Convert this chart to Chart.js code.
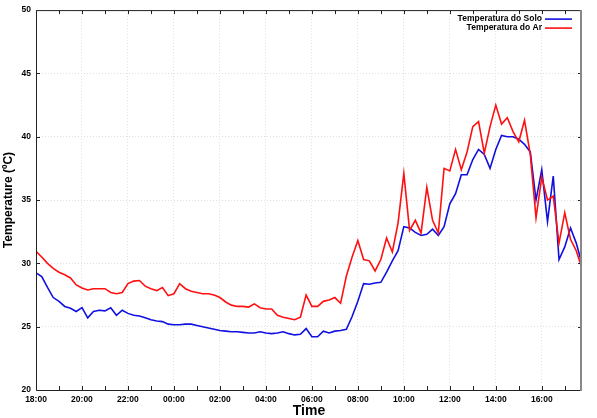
<!DOCTYPE html>
<html>
<head>
<meta charset="utf-8">
<script src="https://cdn.jsdelivr.net/npm/chart.js@4.4.1/dist/chart.umd.min.js"></script>
<style>
  html, body { margin: 0; padding: 0; background: #fff; }
  canvas { display: block; }
</style>
</head>
<body>
<canvas id="chart" width="597" height="418"></canvas>
<script>
// readings every 15 minutes, starting at 18:00
const STEP_HOURS = 0.25;

const xTickLabels = ['18:00', '20:00', '22:00', '00:00', '02:00', '04:00',
                     '06:00', '08:00', '10:00', '12:00', '14:00', '16:00'];

const tempSolo = [
  29.25, 28.95, 28.1, 27.3, 27.0, 26.6, 26.45, 26.2,
  26.5, 25.7, 26.2, 26.3, 26.25, 26.5, 25.9, 26.3,
  26.05, 25.9, 25.85, 25.7, 25.55, 25.45, 25.4, 25.2,
  25.15, 25.15, 25.2, 25.2, 25.1, 25.0, 24.9, 24.8,
  24.7, 24.65, 24.6, 24.6, 24.55, 24.5, 24.5, 24.6,
  24.5, 24.45, 24.5, 24.6, 24.45, 24.35, 24.4, 24.85,
  24.2, 24.2, 24.65, 24.5, 24.65, 24.7, 24.8, 25.8,
  27.0, 28.4, 28.35, 28.45, 28.5, 29.3, 30.2, 31.0,
  32.9, 32.8, 32.45, 32.2, 32.3, 32.7, 32.2, 32.9,
  34.7, 35.5, 37.0, 37.0, 38.2, 39.0, 38.6, 37.5,
  39.0, 40.1, 40.0, 40.0, 39.8, 39.4, 38.8, 35.0,
  37.4, 33.3, 36.9, 30.3, 31.3, 32.8, 31.6, 29.95
];

const tempAr = [
  30.95, 30.5, 30.0, 29.6, 29.3, 29.1, 28.85, 28.3,
  28.05, 27.9, 28.0, 28.0, 28.0, 27.7, 27.6, 27.7,
  28.4, 28.6, 28.65, 28.2, 28.0, 27.85, 28.1, 27.45,
  27.6, 28.4, 28.0, 27.8, 27.7, 27.6, 27.6, 27.5,
  27.3, 26.95, 26.7, 26.6, 26.6, 26.55, 26.8, 26.5,
  26.4, 26.4, 25.9, 25.75, 25.65, 25.55, 25.75, 27.5,
  26.6, 26.6, 27.0, 27.1, 27.3, 26.85, 29.0, 30.5,
  31.8, 30.3, 30.2, 29.4, 30.3, 32.0, 30.9, 33.2,
  37.1, 32.6, 33.4, 32.4, 36.0, 33.4, 32.4, 37.5,
  37.3, 39.0, 37.4, 38.8, 40.8, 41.2, 38.7, 40.8,
  42.5, 41.0, 41.5, 40.4, 39.6, 41.3, 38.6, 33.6,
  36.8, 35.0, 35.3, 31.6, 34.0, 31.9, 31.0, 29.6
];

const toPoints = (arr) => arr.map((v, i) => ({ x: i * STEP_HOURS, y: v }));

const tickFont = { family: '"Liberation Sans", Arial, sans-serif', size: 8.5, weight: 'bold' };

// frame, inward tick marks and the legend inside the plot
const plotFrame = {
  id: 'plotFrame',
  afterDatasetsDraw(chart) {
    const { ctx, chartArea: a, scales } = chart;
    ctx.save();
    ctx.strokeStyle = '#222';
    ctx.lineWidth = 1;
    for (let h = 1; h < 24; h++) {
      const x = Math.round(scales.x.getPixelForValue(h)) + 0.5;
      ctx.beginPath();
      ctx.moveTo(x, a.bottom); ctx.lineTo(x, a.bottom - 4);
      ctx.moveTo(x, a.top); ctx.lineTo(x, a.top + 4);
      ctx.stroke();
    }
    for (let v = 25; v < 50; v += 5) {
      const y = Math.round(scales.y.getPixelForValue(v)) + 0.5;
      ctx.beginPath();
      ctx.moveTo(a.left, y); ctx.lineTo(a.left + 4, y);
      ctx.moveTo(a.right, y); ctx.lineTo(a.right - 4, y);
      ctx.stroke();
    }
    ctx.beginPath();
    ctx.moveTo(a.left + 0.5, a.top + 0.5);
    ctx.lineTo(a.right, a.top + 0.5);
    ctx.moveTo(a.left + 0.5, a.top);
    ctx.lineTo(a.left + 0.5, a.bottom + 0.5);
    ctx.lineTo(a.right, a.bottom + 0.5);
    ctx.stroke();
    ctx.strokeStyle = '#888';
    ctx.lineWidth = 2;
    ctx.beginPath();
    ctx.moveTo(a.right - 1, a.top);
    ctx.lineTo(a.right - 1, a.bottom + 1);
    ctx.stroke();
    ctx.restore();
  },
  afterDraw(chart) {
    const { ctx, chartArea: a } = chart;
    ctx.save();
    ctx.font = 'bold 8.5px "Liberation Sans", Arial, sans-serif';
    ctx.textAlign = 'right';
    ctx.textBaseline = 'middle';
    chart.data.datasets.forEach((ds, i) => {
      const y = a.top + 9 + i * 9;
      ctx.fillStyle = '#000';
      ctx.fillText(ds.label, a.right - 40, y);
      ctx.strokeStyle = ds.borderColor;
      ctx.lineWidth = 1.6;
      ctx.beginPath();
      ctx.moveTo(a.right - 37, y);
      ctx.lineTo(a.right - 10, y);
      ctx.stroke();
    });
    ctx.restore();
  }
};

new Chart(document.getElementById('chart'), {
  type: 'line',
  data: {
    datasets: [
      {
        label: 'Temperatura do Solo',
        data: toPoints(tempSolo),
        borderColor: '#1010e0',
        borderWidth: 1.6,
        pointRadius: 0,
        tension: 0,
        order: 1,
      },
      {
        label: 'Temperatura do Ar',
        data: toPoints(tempAr),
        borderColor: '#ff1010',
        borderWidth: 1.6,
        pointRadius: 0,
        tension: 0,
        order: 0,
      },
    ],
  },
  options: {
    responsive: false,
    animation: false,
    layout: { padding: { top: 8, right: 15, left: 0, bottom: 0 } },
    plugins: {
      legend: { display: false },
      tooltip: { enabled: false },
    },
    scales: {
      x: {
        type: 'linear',
        min: 0,
        max: 23.75,
        afterBuildTicks: (scale) => {
          scale.ticks = xTickLabels.map((_, i) => ({ value: i * 2 }));
        },
        afterFit: (scale) => { scale.height = 28; },
        grid: { color: '#e0e0e0', lineWidth: 1, drawTicks: false },
        border: { display: false, dash: [1, 2] },
        ticks: {
          color: '#000',
          font: tickFont,
          padding: 5,
          maxRotation: 0,
          autoSkip: false,
          callback: (v) => xTickLabels[v / 2],
        },
        title: {
          display: true,
          text: 'Time',
          color: '#000',
          font: { family: '"Liberation Sans", Arial, sans-serif', size: 14, weight: 'bold' },
          padding: { top: 0, bottom: -2 },
        },
      },
      y: {
        min: 20,
        max: 50,
        afterFit: (scale) => { scale.width = 36; },
        grid: { color: '#e0e0e0', lineWidth: 1, drawTicks: false },
        border: { display: false, dash: [1, 2] },
        ticks: {
          stepSize: 5,
          color: '#000',
          font: tickFont,
          padding: 5,
        },
        title: {
          display: true,
          text: 'Temperature (ºC)',
          color: '#000',
          font: { family: '"Liberation Sans", Arial, sans-serif', size: 12, weight: 'bold' },
          padding: { top: 1, bottom: 0 },
        },
      },
    },
  },
  plugins: [plotFrame],
});
</script>
</body>
</html>
